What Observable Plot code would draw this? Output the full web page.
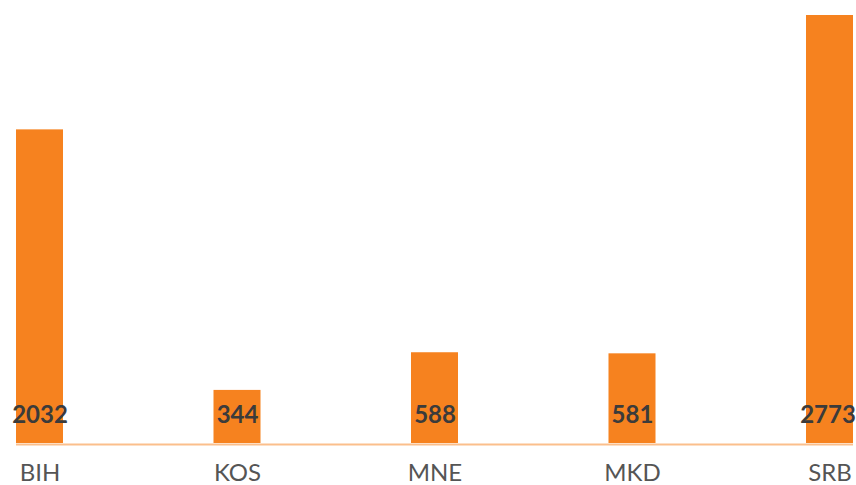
<!DOCTYPE html>
<html>
<head>
<meta charset="utf-8">
<script src="https://cdn.jsdelivr.net/npm/d3@7"></script>
<script src="https://cdn.jsdelivr.net/npm/@observablehq/plot@0.6"></script>
<style>
  html, body { margin: 0; padding: 0; background: #fff; }
  #chart svg { display: block; }
</style>
</head>
<body>
<div id="chart"></div>
<script>
const categories = ["BIH", "KOS", "MNE", "MKD", "SRB"];
const values = [2032, 344, 588, 581, 2773];

const data = categories.map((c, i) => ({ category: c, value: values[i] }));

const chart = Plot.plot({
  width: 856,
  height: 485,
  marginTop: 15,
  marginBottom: 42,
  marginLeft: 16,
  marginRight: 3,
  style: { fontFamily: "Lato, sans-serif", background: "#fff" },
  x: { domain: categories, paddingInner: 0.762, paddingOuter: 0, round: false, label: null },
  y: { domain: [0, 2773], axis: null },
  marks: [
    Plot.barY(data, { x: "category", y: "value", fill: "#f6821f" }),
    Plot.ruleY([0], { stroke: "#fbbf8c", strokeWidth: 2, dy: 1 }),
    Plot.text(data.filter(d => d.category !== "SRB"), {
      x: "category", y: 0, text: d => String(d.value),
      dy: -28, fontSize: 24, fontWeight: "bold", fill: "#3b3b3b", lineAnchor: "middle"
    }),
    Plot.text(data.filter(d => d.category === "SRB"), {
      x: "category", y: 0, text: d => String(d.value),
      dy: -28, dx: -2, fontSize: 24, fontWeight: "bold", fill: "#3b3b3b", lineAnchor: "middle"
    }),
    Plot.axisX({ tickSize: 0, tickPadding: 20, fontSize: 24, color: "#555", label: null })
  ]
});
document.getElementById("chart").append(chart);
</script>
</body>
</html>
